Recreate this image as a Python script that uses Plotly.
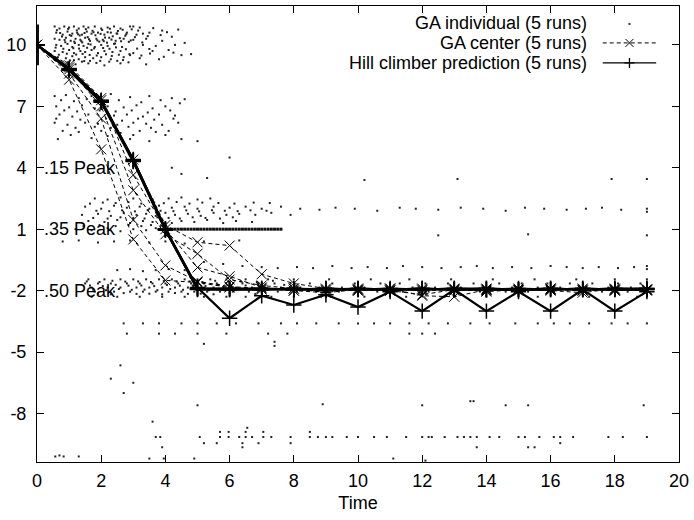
import plotly.graph_objects as go

times = list(range(20))

# GA center trajectories (5 runs)
ga_center_runs = [
    [10, 8.3, 4.9, 0.5, -1.5, -1.6, -1.85, -1.95, -1.9, -2.0, -1.95, -1.9, -2.0, -1.95, -2.0, -1.9, -1.95, -2.0, -1.95, -1.95],
    [10, 8.6, 6.4, 1.45, -0.77, -1.55, -1.8, -1.9, -2.0, -1.95, -2.0, -1.9, -2.25, -2.3, -1.95, -2.0, -1.9, -1.95, -2.0, -1.95],
    [10, 8.8, 7.0, 2.9, 0.75, -0.2, -1.46, -1.75, -1.9, -2.1, -1.9, -2.0, -1.95, -1.9, -2.05, -1.95, -2.0, -2.1, -1.9, -1.95],
    [10, 9.0, 7.4, 3.65, 1.0, -0.87, -1.3, -1.85, -2.0, -2.1, -1.95, -2.0, -2.2, -1.95, -1.9, -2.0, -1.95, -1.9, -2.0, -1.95],
    [10, 8.9, 7.3, 4.4, 1.2, 0.36, 0.2, -1.2, -1.65, -1.9, -2.0, -1.95, -1.9, -2.0, -1.95, -2.0, -1.9, -2.0, -1.95, -2.0],
]

# Hill climber predictions (5 runs)
hill_runs = [
    [10, 8.8, 7.25, 4.35, 1.0, -1.85, -3.35, -2.25, -2.7, -2.2, -2.8, -2.05, -3.0, -1.95, -3.0, -2.05, -3.0, -1.95, -3.0, -2.05],
    [10, 8.75, 7.2, 4.3, 0.95, -1.9, -1.9, -1.95, -1.9, -1.95, -1.9, -1.95, -1.9, -1.95, -1.95, -1.9, -1.95, -1.9, -1.95, -1.9],
    [10, 8.82, 7.3, 4.4, 1.0, -1.95, -1.95, -1.9, -1.95, -1.9, -1.95, -1.9, -1.95, -1.9, -1.95, -1.95, -1.9, -1.95, -1.9, -1.95],
    [10, 8.78, 7.22, 4.38, 1.02, -1.9, -1.95, -1.95, -1.9, -2.0, -1.9, -1.95, -1.95, -1.9, -1.9, -1.95, -1.95, -1.9, -1.95, -1.95],
    [10, 8.85, 7.28, 4.32, 0.98, -1.92, -1.9, -1.9, -1.95, -1.9, -1.95, -1.95, -1.9, -1.95, -1.9, -1.95, -1.9, -1.95, -1.9, -1.9],
]

# GA individuals: initial population at time 0
gen0_y = [9.1, 9.18, 9.25, 9.33, 9.4, 9.48, 9.55, 9.63, 9.7, 9.78, 9.85, 9.93, 10.0,
          10.08, 10.15, 10.23, 10.3, 10.38, 10.45, 10.53, 10.6, 10.68, 10.75, 10.83, 10.9]

# GA individuals, upper cloud
top_pts = [
    (0.55, 10.9), (0.7, 10.8), (0.85, 10.9), (1.0, 10.85), (1.15, 10.9), (1.3, 10.8), (1.45, 10.9), (1.6, 10.85),
    (1.8, 10.9), (2.0, 10.8), (2.2, 10.85), (2.4, 10.9), (2.6, 10.8), (2.9, 10.9), (3.2, 10.85),
    (0.6, 10.6), (0.8, 10.5), (0.95, 10.65), (1.1, 10.55), (1.25, 10.6), (1.4, 10.5), (1.55, 10.65), (1.7, 10.55),
    (1.9, 10.6), (2.1, 10.5), (2.3, 10.6), (2.5, 10.55), (2.8, 10.6), (3.1, 10.5), (3.5, 10.6),
    (0.55, 10.3), (0.7, 10.25), (0.9, 10.35), (1.05, 10.2), (1.2, 10.3), (1.35, 10.25), (1.5, 10.35), (1.65, 10.2),
    (1.85, 10.3), (2.05, 10.25), (2.25, 10.35), (2.45, 10.2), (2.7, 10.3), (3.0, 10.25), (3.4, 10.3), (3.9, 10.2),
    (0.6, 10.0), (0.75, 9.95), (0.95, 10.05), (1.1, 9.9), (1.3, 10.0), (1.45, 9.95), (1.6, 10.05), (1.8, 9.9),
    (2.0, 10.0), (2.2, 9.95), (2.4, 10.05), (2.65, 9.9), (3.3, 10.0), (3.7, 9.95), (4.3, 10.0),
    (0.55, 9.7), (0.8, 9.65), (1.0, 9.75), (1.15, 9.6), (1.35, 9.7), (1.5, 9.65), (1.7, 9.75), (1.9, 9.6),
    (2.1, 9.7), (2.35, 9.65), (2.6, 9.7), (3.0, 9.6), (3.6, 9.7), (4.5, 9.5), (4.8, 9.55),
    (0.65, 9.4), (0.9, 9.35), (1.1, 9.45), (1.3, 9.3), (1.5, 9.4), (1.75, 9.35), (2.0, 9.4), (2.3, 9.3),
    (2.7, 9.4), (3.2, 9.35), (0.75, 9.1), (1.2, 9.05), (1.6, 9.1), (2.1, 9.0), (2.6, 9.1), (3.4, 9.05),
    (3.0, 10.9), (3.3, 10.55), (3.9, 10.7), (4.2, 10.4), (4.6, 10.1), (3.5, 9.8), (2.9, 9.5), (3.8, 9.3), (4.1, 9.75),
]
top_extra_pts = [
    (0.62, 10.72), (0.78, 10.41), (0.88, 10.13), (0.97, 10.78), (1.07, 10.44), (1.18, 10.09), (1.24, 10.71),
    (1.33, 10.46), (1.41, 10.12), (1.52, 10.77), (1.58, 10.38), (1.67, 10.02), (1.73, 10.69), (1.82, 10.47),
    (1.94, 10.16), (2.03, 10.73), (2.12, 10.36), (2.18, 10.11), (2.27, 10.79), (2.36, 10.42), (2.43, 10.07),
    (2.52, 10.68), (2.58, 10.33), (2.67, 10.74), (2.75, 10.45), (2.86, 10.15), (2.95, 10.76), (3.05, 10.38),
    (3.15, 10.7), (3.28, 10.12), (3.45, 10.43), (3.62, 10.82), (3.85, 10.48), (4.05, 10.62), (4.4, 10.75),
    (0.58, 9.87), (0.68, 9.52), (0.82, 9.81), (0.93, 9.57), (1.03, 9.24), (1.13, 9.84), (1.22, 9.53), (1.31, 9.82),
    (1.42, 9.56), (1.47, 9.21), (1.56, 9.86), (1.64, 9.51), (1.78, 9.83), (1.86, 9.48), (1.97, 9.22), (2.06, 9.85),
    (2.15, 9.54), (2.26, 9.81), (2.33, 9.46), (2.46, 9.88), (2.55, 9.52), (2.68, 9.26), (2.77, 9.79), (2.88, 9.55),
    (3.12, 9.82), (3.25, 9.48), (3.52, 9.58), (3.95, 9.42), (4.25, 9.62),
    (0.72, 10.58), (0.86, 10.24), (1.02, 10.48), (1.16, 10.16), (1.28, 10.52), (1.38, 10.18), (1.48, 10.58),
    (1.62, 10.28), (1.76, 10.62), (1.88, 10.22), (1.98, 10.54), (2.08, 10.18), (2.2, 10.62), (2.32, 10.26),
    (2.48, 10.56), (2.62, 10.18), (2.78, 10.52), (2.92, 10.22),
    (0.7, 9.2), (0.95, 9.15), (1.15, 9.25), (1.4, 9.18), (1.65, 9.22), (1.85, 9.12), (2.25, 9.18), (2.5, 9.22), (2.85, 9.15),
]

# GA individuals, second band
mid_pts = [
    (0.55, 7.5), (0.9, 7.55), (1.3, 7.4), (1.7, 7.5), (2.3, 7.6), (2.9, 7.45), (3.5, 7.5), (4.2, 7.4), (4.6, 7.35),
    (0.6, 7.0), (1.0, 6.95), (1.4, 7.05), (1.8, 6.9), (2.2, 7.0), (2.7, 6.95), (3.1, 7.05), (3.6, 6.9), (4.0, 7.0),
    (0.7, 6.6), (1.1, 6.5), (1.6, 6.6), (2.4, 6.55), (2.8, 6.6), (3.3, 6.5), (3.8, 6.6), (4.3, 6.55),
    (0.55, 6.2), (0.95, 6.1), (1.5, 6.2), (1.9, 6.15), (2.5, 6.1), (3.0, 6.2), (3.4, 6.15), (3.9, 6.1), (4.4, 6.2),
    (0.8, 5.8), (1.3, 5.75), (2.0, 5.8), (2.6, 5.7), (3.2, 5.8), (3.7, 5.75), (4.1, 5.8),
    (0.65, 5.4), (1.7, 5.45), (2.9, 5.4), (3.5, 5.3), (4.5, 5.4), (5.0, 5.3),
    (4.2, 4.0), (4.5, 3.7), (6.0, 4.5), (5.3, 3.5), (10.2, 3.4), (13.1, 3.45), (17.9, 3.45), (19.0, 3.45),
    (0.75, 7.3), (1.15, 7.25), (1.55, 7.35), (2.05, 7.25), (2.55, 7.3), (3.25, 7.2), (3.85, 7.3), (4.45, 7.15),
    (0.85, 6.8), (1.25, 6.75), (1.95, 6.8), (2.45, 6.75), (2.95, 6.8), (3.45, 6.7), (4.15, 6.8),
    (0.6, 6.4), (1.35, 6.35), (2.15, 6.4), (2.65, 6.3), (3.15, 6.4), (3.65, 6.35), (4.25, 6.4),
    (1.2, 5.95), (1.8, 6.0), (2.3, 5.95), (2.85, 6.0), (3.55, 5.95), (4.0, 5.6), (1.05, 5.6), (2.2, 5.55), (3.0, 5.6),
]

# GA individuals around the .35 peak
p35_pts = [
    (1.8, 2.5), (2.2, 2.45), (2.6, 2.55), (3.0, 2.5), (3.6, 2.45), (4.1, 2.5), (4.5, 2.55), (5.0, 2.45), (5.4, 2.5),
    (1.5, 2.1), (2.0, 2.0), (2.4, 2.15), (2.8, 2.05), (3.2, 2.1), (3.5, 2.0), (3.8, 2.15), (4.2, 2.05), (4.6, 2.1),
    (5.0, 2.0), (5.5, 2.1), (6.0, 2.05), (6.5, 2.1), (7.0, 2.0), (7.6, 2.1),
    (1.4, 1.7), (1.9, 1.75), (2.3, 1.65), (2.7, 1.8), (3.1, 1.7), (3.4, 1.75), (3.7, 1.65), (4.0, 1.8), (4.3, 1.7),
    (4.7, 1.75), (5.1, 1.65), (5.5, 1.8), (5.9, 1.7), (6.3, 1.75), (6.8, 1.7), (7.3, 1.8), (7.9, 1.7),
    (1.6, 1.4), (2.1, 1.35), (2.5, 1.45), (2.9, 1.3), (3.3, 1.4), (3.6, 1.35), (3.9, 1.45), (4.2, 1.3), (4.5, 1.4),
    (4.9, 1.35), (5.3, 1.45), (5.8, 1.3), (6.2, 1.4), (6.7, 1.35),
    (1.2, 1.0), (1.7, 0.95), (2.2, 1.05), (2.6, 0.9), (3.0, 1.0), (3.4, 0.95), (3.7, 1.05),
    (0.8, 0.4), (1.3, 0.45), (1.9, 0.35), (2.4, 0.4), (2.9, 0.45), (3.5, 0.35), (4.0, 0.4), (4.6, 0.3), (5.2, 0.4), (6.3, 0.45),
    (8.2, 2.0), (8.8, 1.95), (9.3, 2.05), (9.9, 2.0), (10.6, 1.9), (11.3, 2.05), (11.8, 2.0), (12.5, 1.95), (13.2, 2.05),
    (13.9, 2.0), (14.6, 1.9), (15.2, 2.05), (15.8, 2.0), (16.5, 1.95), (17.1, 2.0), (17.6, 2.05), (18.2, 1.95),
    (19.0, 2.0), (19.0, 1.85), (12.5, 0.7), (15.3, 0.75), (19.0, 0.7),
    (1.65, 2.25), (2.05, 2.3), (2.45, 2.28), (2.85, 2.32), (3.25, 2.25), (3.65, 2.3), (3.95, 2.27), (4.35, 2.33),
    (4.75, 2.25), (5.15, 2.3), (5.65, 2.28), (6.15, 2.25), (6.75, 2.3), (7.25, 2.28),
    (1.85, 1.9), (2.25, 1.88), (2.65, 1.92), (3.05, 1.87), (3.45, 1.93), (3.85, 1.9), (4.25, 1.88), (4.65, 1.92),
    (5.05, 1.87), (5.45, 1.93), (5.85, 1.9), (6.25, 1.88), (6.65, 1.92), (7.15, 1.9),
    (1.75, 1.55), (2.2, 1.52), (2.6, 1.58), (3.0, 1.55), (3.35, 1.52), (3.75, 1.58), (4.1, 1.55), (4.45, 1.52),
    (4.85, 1.58), (5.25, 1.55), (5.7, 1.52), (6.1, 1.58),
    (1.45, 1.15), (1.95, 1.2), (2.45, 1.15), (2.85, 1.2), (3.25, 1.15), (3.55, 1.2), (3.85, 1.15),
]

# GA individuals stuck on the .35 peak plateau
plateau_x = [4.0, 4.1, 4.2, 4.3, 4.4, 4.5, 4.6, 4.7, 4.8, 4.9, 5.0, 5.1, 5.2, 5.3, 5.4, 5.5, 5.6, 5.7, 5.8,
             5.9, 6.0, 6.1, 6.2, 6.3, 6.4, 6.5, 6.6, 6.7, 6.8, 6.9, 7.0, 7.1, 7.2, 7.3, 7.4, 7.5, 7.6]
plateau_y = [1.0] * len(plateau_x)

# GA individuals around the .50 peak
p50_pts = [
    (5.2, -0.6), (5.8, -0.7), (6.4, -0.8), (7.0, -0.85), (7.5, -0.9), (8.1, -0.85), (8.6, -0.9), (9.2, -0.8),
    (9.8, -0.9), (10.3, -0.85), (10.9, -0.9), (11.4, -0.8), (12.0, -0.85), (12.6, -0.9), (13.2, -0.85), (13.7, -0.8),
    (14.2, -0.9), (14.8, -0.85), (15.4, -0.9), (16.0, -0.8), (16.5, -0.85), (17.0, -0.9), (17.5, -0.85), (18.1, -0.9),
    (18.6, -0.85), (19.0, -0.8), (19.0, -0.95),
    (2.5, -1.0), (2.9, -0.95), (3.3, -1.05), (3.7, -1.0), (4.1, -0.95), (4.6, -1.0),
    (1.55, -1.55), (1.95, -1.58), (2.35, -1.52), (2.75, -1.56), (3.15, -1.55), (3.55, -1.58), (3.95, -1.52),
    (4.35, -1.56), (4.75, -1.55), (5.15, -1.58), (5.55, -1.52), (5.95, -1.56), (6.35, -1.55), (6.85, -1.58), (7.35, -1.52),
    (1.65, -1.75), (2.05, -1.78), (2.45, -1.72), (2.85, -1.76), (3.25, -1.75), (3.65, -1.78), (4.05, -1.72),
    (4.45, -1.76), (4.85, -1.75), (5.25, -1.78), (5.65, -1.72), (6.05, -1.76), (6.5, -1.75), (7.0, -1.78), (7.7, -1.72),
    (1.75, -1.95), (2.15, -1.98), (2.55, -1.92), (2.95, -1.96), (3.35, -1.95), (3.75, -1.98), (4.15, -1.92),
    (4.55, -1.96), (4.95, -1.95), (5.35, -1.98), (5.75, -1.92), (6.15, -1.96), (6.6, -1.95), (7.1, -1.98),
    (1.9, -2.15), (2.3, -2.18), (2.7, -2.12), (3.1, -2.16), (3.5, -2.15), (3.9, -2.18), (4.3, -2.12), (4.7, -2.16),
    (5.1, -2.15), (5.5, -2.18), (6.0, -2.12), (6.8, -2.16),
]
p50_rows_y = [-1.45, -1.65, -1.85, -2.05, -2.3]
p50_rows_x = [
    [1.6, 2.1, 2.6, 3.0, 3.4, 3.8, 4.2, 4.6, 5.0, 5.4, 5.9, 6.5, 7.2, 8.0, 9.1, 10.4, 11.6, 12.9, 14.2, 15.5, 16.8, 18.0, 19.0],
    [1.5, 1.9, 2.3, 2.8, 3.2, 3.6, 4.0, 4.4, 4.8, 5.2, 5.6, 6.0, 6.4, 6.9, 7.4, 7.9, 8.5, 9.2, 9.9, 10.7, 11.3, 12.1,
     12.8, 13.6, 14.4, 15.1, 15.9, 16.6, 17.3, 18.1, 18.8],
    [1.7, 2.2, 2.6, 3.1, 3.5, 3.9, 4.3, 4.7, 5.1, 5.5, 5.8, 6.2, 6.7, 7.1, 7.6, 8.2, 8.8, 9.5, 10.2, 10.9, 11.7, 12.4,
     13.2, 14.0, 14.8, 15.6, 16.3, 17.1, 17.8, 18.5, 19.0],
    [1.8, 2.4, 2.9, 3.3, 3.7, 4.1, 4.5, 4.9, 5.3, 5.7, 6.1, 6.6, 7.0, 7.5, 8.1, 8.7, 9.4, 10.0, 10.6, 11.4, 12.2, 13.0,
     13.8, 14.6, 15.3, 16.1, 16.9, 17.6, 18.4, 19.0],
    [1.7, 2.5, 3.2, 3.9, 4.6, 5.2, 5.9, 6.5, 7.3, 8.0, 9.0, 10.2, 11.5, 12.7, 14.0, 15.6, 17.2, 18.7],
]

# GA individuals below the peaks
low_rows_y = [-3.6, -4.1]
low_rows_x = [
    [2.7, 3.3, 3.8, 4.5, 5.0, 5.6, 6.2, 6.9, 7.6, 8.1, 8.7, 9.4, 10.0, 10.5, 11.0, 11.6, 12.2, 12.8, 13.5, 14.1,
     14.9, 15.6, 16.1, 16.6, 17.2, 17.9, 18.4, 19.0],
    [2.8, 3.8, 4.3, 5.0, 5.9, 7.2, 7.8, 11.6, 12.0, 12.4],
]
sparse_pts = [
    (2.6, -5.65), (2.3, -6.3), (2.7, -7.0), (3.0, -6.5), (5.0, -7.6), (3.6, -8.4), (8.9, -7.55), (12.0, -7.6),
    (13.5, -7.4), (13.6, -7.4), (14.6, -7.6), (15.3, -7.6), (18.9, -7.6), (5.2, -4.6), (7.4, -4.7), (7.4, -4.5),
    (6.55, -8.7), (0.57, -10.1), (0.7, -10.05), (0.83, -10.1), (1.3, -10.1), (3.5, -10.2), (3.95, -10.2),
    (4.9, -10.2), (11.1, -10.2), (12.1, -10.3),
]
bottom_rows_y = [-9.15, -8.9, -9.45, -9.65]
bottom_rows_x = [
    [3.7, 3.84, 5.07, 5.7, 5.97, 6.3, 6.5, 6.7, 7.05, 7.3, 7.9, 8.5, 8.75, 9.0, 9.2, 9.65, 10.0, 10.5, 10.9, 11.5,
     12.0, 12.2, 12.3, 12.7, 13.1, 13.3, 13.5, 13.7, 14.1, 14.4, 15.0, 15.2, 15.65, 16.1, 16.3, 16.7, 17.8, 18.25, 19.0],
    [5.7, 5.97, 6.5, 7.05, 8.5],
    [5.2, 5.6, 6.4, 6.9, 7.9, 16.3],
    [3.9, 6.4, 13.7, 15.3, 15.5],
]

y_ticks = [10, 7, 4, 1, -2, -5, -8]
x_ticks = [0, 2, 4, 6, 8, 10, 12, 14, 16, 18, 20]
peak_labels = [(4, ".15 Peak"), (1, ".35 Peak"), (-2, ".50 Peak")]
legend_labels = ["GA individual (5 runs)", "GA center (5 runs)", "Hill climber prediction (5 runs)"]

# ---- assemble individual points ----
ind_x, ind_y = [], []
for pts in (top_pts, top_extra_pts, mid_pts, p35_pts, p50_pts, sparse_pts):
    for px, py in pts:
        ind_x.append(px)
        ind_y.append(py)
for rows_y, rows_x in ((p50_rows_y, p50_rows_x), (low_rows_y, low_rows_x), (bottom_rows_y, bottom_rows_x)):
    for yv, xs in zip(rows_y, rows_x):
        ind_x.extend(xs)
        ind_y.extend([yv] * len(xs))

FONT = "Liberation Sans, Arial, Helvetica, sans-serif"
fig = go.Figure()

fig.add_trace(go.Scatter(x=ind_x, y=ind_y, mode="markers",
                         marker=dict(symbol="square", size=2, color="#222"), showlegend=False))
fig.add_trace(go.Scatter(x=plateau_x, y=plateau_y, mode="markers",
                         marker=dict(symbol="square", size=3, color="#111"), showlegend=False))
fig.add_trace(go.Scatter(x=[0] * len(gen0_y), y=gen0_y, mode="markers",
                         marker=dict(symbol="square", size=4, color="#111"), showlegend=False))

for run in ga_center_runs:
    fig.add_trace(go.Scatter(x=times, y=run, mode="lines+markers",
                             line=dict(color="black", width=1, dash="4px,3px"),
                             marker=dict(symbol="x-thin", size=10, line=dict(color="black", width=1)),
                             showlegend=False))

for run in hill_runs:
    fig.add_trace(go.Scatter(x=times, y=run, mode="lines+markers",
                             line=dict(color="black", width=2.2),
                             marker=dict(symbol="cross-thin", size=11, line=dict(color="black", width=1.5)),
                             showlegend=False))

annotations = []
for yv, txt in peak_labels:
    annotations.append(dict(x=0, y=yv, xref="x", yref="y", text=txt, showarrow=False,
                            xanchor="left", yanchor="middle", xshift=5,
                            font=dict(family=FONT, size=18, color="black")))

# custom gnuplot-style legend (text right-aligned, key sample to the right)
L, R, T, B = 37, 9, 5, 58
W, H = 694 - L - R, 520 - T - B
def px_x(p):
    return (p - L) / W
def px_y(p):
    return 1 - (p - T) / H

leg_rows = [22, 42, 62]
shapes = []
for txt, row in zip(legend_labels, leg_rows):
    annotations.append(dict(x=px_x(594), y=px_y(row), xref="paper", yref="paper", text=txt,
                            showarrow=False, xanchor="right", yanchor="middle",
                            font=dict(family=FONT, size=18, color="black")))
shapes.append(dict(type="rect", xref="paper", yref="paper", xsizemode="pixel", ysizemode="pixel",
                   xanchor=px_x(635), yanchor=px_y(leg_rows[0] + 1), x0=-1, x1=1, y0=-1, y1=1,
                   fillcolor="#333", line=dict(width=0)))
shapes.append(dict(type="line", xref="paper", yref="paper", x0=px_x(608), x1=px_x(662),
                   y0=px_y(leg_rows[1]), y1=px_y(leg_rows[1]), line=dict(color="black", width=1, dash="4px,3px")))
shapes.append(dict(type="path", xref="paper", yref="paper", xsizemode="pixel", ysizemode="pixel",
                   xanchor=px_x(635), yanchor=px_y(leg_rows[1]), path="M-4,-4L4,4M-4,4L4,-4",
                   line=dict(color="black", width=1)))
shapes.append(dict(type="line", xref="paper", yref="paper", x0=px_x(608), x1=px_x(662),
                   y0=px_y(leg_rows[2]), y1=px_y(leg_rows[2]), line=dict(color="black", width=1.3)))
shapes.append(dict(type="path", xref="paper", yref="paper", xsizemode="pixel", ysizemode="pixel",
                   xanchor=px_x(635), yanchor=px_y(leg_rows[2]), path="M-5,0L5,0M0,-5L0,5",
                   line=dict(color="black", width=1.3)))

axis_common = dict(showline=True, linecolor="black", linewidth=1, mirror="ticks",
                   ticks="inside", ticklen=7, tickwidth=1, tickcolor="black",
                   showgrid=False, zeroline=False,
                   tickfont=dict(family=FONT, size=18, color="black"))

fig.update_layout(
    width=694, height=520,
    margin=dict(l=L, r=R, t=T, b=B),
    paper_bgcolor="white", plot_bgcolor="white",
    showlegend=False,
    annotations=annotations,
    shapes=shapes,
    xaxis=dict(range=[0, 20], tickvals=x_ticks, ticktext=[str(v) for v in x_ticks],
               title=dict(text="Time", font=dict(family=FONT, size=18, color="black"), standoff=6),
               ticklabelstandoff=2, ticklabeloverflow="allow", **axis_common),
    yaxis=dict(range=[-10.37, 11.9], tickvals=y_ticks, ticktext=[str(v) for v in y_ticks],
               ticklabelstandoff=6, **axis_common),
)

fig.write_html("out.html")
